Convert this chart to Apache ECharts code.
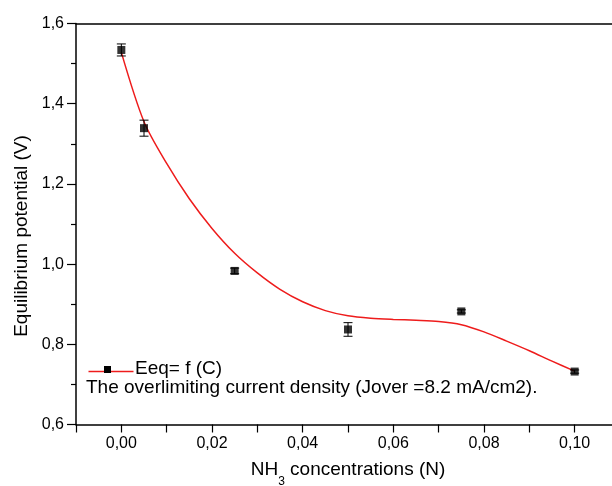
<!DOCTYPE html>
<html>
<head>
<meta charset="utf-8">
<script src="https://cdn.jsdelivr.net/npm/echarts@6/dist/echarts.min.js"></script>
<style>
  html, body { margin: 0; padding: 0; background: #fff; }
  #chart { width: 612px; height: 486px; }
</style>
</head>
<body>
<div id="chart"></div>
<script>
// Measured equilibrium potential vs NH3 concentration
const concN = [0, 0.005, 0.025, 0.05, 0.075, 0.1];
const eqPotential = [1.534, 1.339, 0.983, 0.837, 0.882, 0.732];
const eqError = [0.015, 0.02, 0.007, 0.017, 0.004, 0.004];

// Fitted trend curve Eeq = f(C)
const fitX = [0, 0.005, 0.01, 0.015, 0.02, 0.025, 0.03, 0.035, 0.04, 0.045, 0.05,
              0.055, 0.06, 0.065, 0.07, 0.075, 0.08, 0.085, 0.09, 0.095, 0.1];
const fitY = [1.528, 1.355, 1.251, 1.163, 1.089, 1.027, 0.978, 0.937, 0.906, 0.884, 0.871,
              0.865, 0.862, 0.860, 0.857, 0.849, 0.831, 0.808, 0.784, 0.758, 0.733];

const legendLabel = 'Eeq= f (C)';
const noteText = 'The overlimiting current density (Jover =8.2 mA/cm2).';

const FONT = '"Liberation Sans", Arial, sans-serif';

const chart = echarts.init(document.getElementById('chart'), null, { renderer: 'canvas' });

const pointData = concN.map((c, i) => [c, eqPotential[i], eqError[i]]);
const fitData = fitX.map((c, i) => [c, fitY[i]]);

function commaFixed(v, d) {
  return v.toFixed(d).replace('.', ',');
}

chart.setOption({
  animation: false,
  backgroundColor: '#fff',
  grid: {
    left: 76, top: 23.5, width: 544, height: 401,
    containLabel: false, outerBoundsMode: 'none'
  },
  xAxis: [{
    type: 'value', min: -0.01, max: 0.11, interval: 0.01,
    position: 'bottom',
    name: '{n|NH}{s|3}{n| concentrations (N)}',
    nameLocation: 'middle', nameGap: 36,
    nameTextStyle: {
      rich: {
        n: { fontFamily: FONT, fontSize: 19, color: '#000' },
        s: { fontFamily: FONT, fontSize: 12, color: '#000', verticalAlign: 'bottom', padding: [0, 0, -8, 0] }
      }
    },
    axisLine: { show: true, onZero: false, lineStyle: { color: '#000', width: 1.5 } },
    axisTick: { show: true, inside: false, length: 8, lineStyle: { color: '#000', width: 1.2 } },
    axisLabel: {
      margin: 11, fontFamily: FONT, fontSize: 16, color: '#000',
      showMinLabel: true, showMaxLabel: true,
      formatter: v => {
        const k = Math.round(v * 100);
        if (k < 0 || k % 2 !== 0 || k > 10) return '';
        return commaFixed(k / 100, 2);
      }
    },
    splitLine: { show: false }
  }, {
    type: 'value', min: -0.01, max: 0.11, position: 'top',
    axisLine: { show: true, onZero: false, lineStyle: { color: '#000', width: 1.5 } },
    axisTick: { show: false }, axisLabel: { show: false }, splitLine: { show: false }
  }],
  yAxis: {
    type: 'value', min: 0.6, max: 1.6, interval: 0.2,
    name: 'Equilibrium potential (V)',
    nameLocation: 'middle', nameGap: 45, nameRotate: 90,
    nameTextStyle: { fontFamily: FONT, fontSize: 19, color: '#000', padding: [0, 24, 0, 0] },
    axisLine: { show: true, onZero: false, lineStyle: { color: '#000', width: 1.5 } },
    axisTick: { show: true, inside: false, length: 9, lineStyle: { color: '#000', width: 1.2 } },
    minorTick: { show: true, splitNumber: 2, length: 5, lineStyle: { color: '#000', width: 1.2 } },
    axisLabel: {
      margin: 12, fontFamily: FONT, fontSize: 16, color: '#000',
      formatter: v => commaFixed(v, 1)
    },
    splitLine: { show: false }
  },
  series: [
    {
      name: legendLabel,
      type: 'line',
      data: fitData,
      smooth: 0.3,
      showSymbol: false,
      lineStyle: { color: '#ee1c1c', width: 1.5 },
      z: 2
    },
    {
      type: 'custom',
      data: pointData,
      renderItem: (params, api) => {
        const x = api.value(0), y = api.value(1), e = api.value(2);
        const top = api.coord([x, y + e]);
        const bot = api.coord([x, y - e]);
        const hw = 4.5;
        const style = { stroke: '#000', lineWidth: 1 };
        return {
          type: 'group',
          children: [
            { type: 'line', shape: { x1: top[0], y1: top[1], x2: bot[0], y2: bot[1] }, style },
            { type: 'line', shape: { x1: top[0] - hw, y1: top[1], x2: top[0] + hw, y2: top[1] }, style },
            { type: 'line', shape: { x1: bot[0] - hw, y1: bot[1], x2: bot[0] + hw, y2: bot[1] }, style }
          ]
        };
      },
      z: 3
    },
    {
      type: 'scatter',
      data: pointData.map(p => [p[0], p[1]]),
      symbol: 'rect',
      symbolSize: 8,
      itemStyle: { color: '#000' },
      z: 4
    }
  ],
  graphic: [
    { type: 'line', left: 86, top: 369, shape: { x1: 0, y1: 0, x2: 45, y2: 0 },
      style: { stroke: '#ee1c1c', lineWidth: 1.5 }, z: 10 },
    { type: 'rect', left: 104, top: 366, shape: { width: 7, height: 7 },
      style: { fill: '#000' }, z: 11 },
    { type: 'text', left: 135, top: 359, z: 10,
      style: { text: legendLabel, fontFamily: FONT, fontSize: 19, fill: '#000' } },
    { type: 'text', left: 86, top: 378, z: 10,
      style: { text: noteText, fontFamily: FONT, fontSize: 19, fill: '#000' } }
  ]
});
</script>
</body>
</html>
